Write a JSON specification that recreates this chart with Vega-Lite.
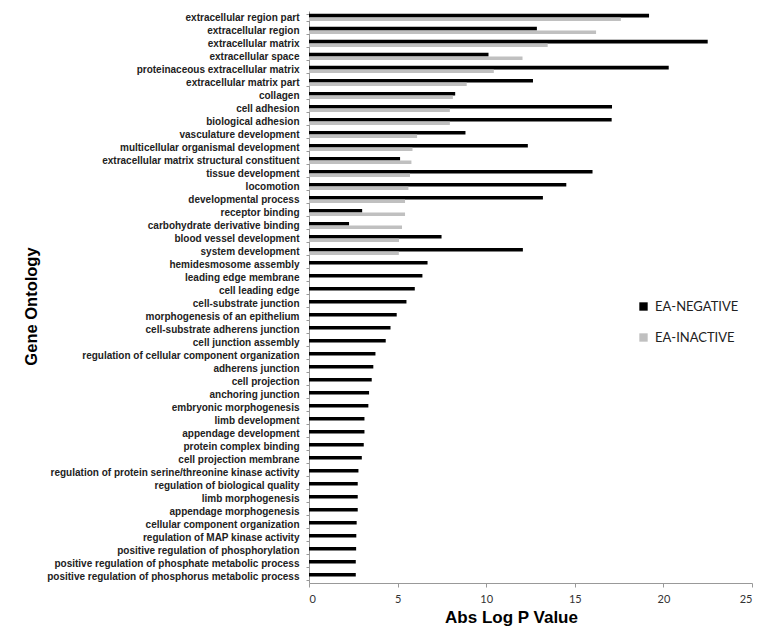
{
  "$schema": "https://vega.github.io/schema/vega-lite/v6.json",
  "width": 443,
  "height": 572,
  "autosize": {"type": "none"},
  "padding": {"left": 309, "top": 11, "right": 9, "bottom": 48},
  "background": "white",
  "config": {"view": {"stroke": null}},
  "data": {
    "values": [
      {"term": "extracellular region part", "series": "EA-NEGATIVE", "value": 19.19},
      {"term": "extracellular region part", "series": "EA-INACTIVE", "value": 17.6},
      {"term": "extracellular region", "series": "EA-NEGATIVE", "value": 12.86},
      {"term": "extracellular region", "series": "EA-INACTIVE", "value": 16.2},
      {"term": "extracellular matrix", "series": "EA-NEGATIVE", "value": 22.5},
      {"term": "extracellular matrix", "series": "EA-INACTIVE", "value": 13.47},
      {"term": "extracellular space", "series": "EA-NEGATIVE", "value": 10.13},
      {"term": "extracellular space", "series": "EA-INACTIVE", "value": 12.05},
      {"term": "proteinaceous extracellular matrix", "series": "EA-NEGATIVE", "value": 20.3},
      {"term": "proteinaceous extracellular matrix", "series": "EA-INACTIVE", "value": 10.43},
      {"term": "extracellular matrix part", "series": "EA-NEGATIVE", "value": 12.64},
      {"term": "extracellular matrix part", "series": "EA-INACTIVE", "value": 8.9},
      {"term": "collagen", "series": "EA-NEGATIVE", "value": 8.25},
      {"term": "collagen", "series": "EA-INACTIVE", "value": 8.12},
      {"term": "cell adhesion", "series": "EA-NEGATIVE", "value": 17.1},
      {"term": "cell adhesion", "series": "EA-INACTIVE", "value": 7.95},
      {"term": "biological adhesion", "series": "EA-NEGATIVE", "value": 17.08},
      {"term": "biological adhesion", "series": "EA-INACTIVE", "value": 7.95},
      {"term": "vasculature development", "series": "EA-NEGATIVE", "value": 8.83},
      {"term": "vasculature development", "series": "EA-INACTIVE", "value": 6.1},
      {"term": "multicellular organismal development", "series": "EA-NEGATIVE", "value": 12.35},
      {"term": "multicellular organismal development", "series": "EA-INACTIVE", "value": 5.84},
      {"term": "extracellular matrix structural constituent", "series": "EA-NEGATIVE", "value": 5.14},
      {"term": "extracellular matrix structural constituent", "series": "EA-INACTIVE", "value": 5.78},
      {"term": "tissue development", "series": "EA-NEGATIVE", "value": 16.0},
      {"term": "tissue development", "series": "EA-INACTIVE", "value": 5.7},
      {"term": "locomotion", "series": "EA-NEGATIVE", "value": 14.52},
      {"term": "locomotion", "series": "EA-INACTIVE", "value": 5.61},
      {"term": "developmental process", "series": "EA-NEGATIVE", "value": 13.2},
      {"term": "developmental process", "series": "EA-INACTIVE", "value": 5.42},
      {"term": "receptor binding", "series": "EA-NEGATIVE", "value": 3.0},
      {"term": "receptor binding", "series": "EA-INACTIVE", "value": 5.42},
      {"term": "carbohydrate derivative binding", "series": "EA-NEGATIVE", "value": 2.26},
      {"term": "carbohydrate derivative binding", "series": "EA-INACTIVE", "value": 5.25},
      {"term": "blood vessel development", "series": "EA-NEGATIVE", "value": 7.48},
      {"term": "blood vessel development", "series": "EA-INACTIVE", "value": 5.08},
      {"term": "system development", "series": "EA-NEGATIVE", "value": 12.07},
      {"term": "system development", "series": "EA-INACTIVE", "value": 5.07},
      {"term": "hemidesmosome assembly", "series": "EA-NEGATIVE", "value": 6.69},
      {"term": "leading edge membrane", "series": "EA-NEGATIVE", "value": 6.4},
      {"term": "cell leading edge", "series": "EA-NEGATIVE", "value": 5.97},
      {"term": "cell-substrate junction", "series": "EA-NEGATIVE", "value": 5.5},
      {"term": "morphogenesis of an epithelium", "series": "EA-NEGATIVE", "value": 4.95},
      {"term": "cell-substrate adherens junction", "series": "EA-NEGATIVE", "value": 4.6},
      {"term": "cell junction assembly", "series": "EA-NEGATIVE", "value": 4.33},
      {"term": "regulation of cellular component organization", "series": "EA-NEGATIVE", "value": 3.75},
      {"term": "adherens junction", "series": "EA-NEGATIVE", "value": 3.63},
      {"term": "cell projection", "series": "EA-NEGATIVE", "value": 3.54},
      {"term": "anchoring junction", "series": "EA-NEGATIVE", "value": 3.39},
      {"term": "embryonic morphogenesis", "series": "EA-NEGATIVE", "value": 3.35},
      {"term": "limb development", "series": "EA-NEGATIVE", "value": 3.13},
      {"term": "appendage development", "series": "EA-NEGATIVE", "value": 3.13},
      {"term": "protein complex binding", "series": "EA-NEGATIVE", "value": 3.09},
      {"term": "cell projection membrane", "series": "EA-NEGATIVE", "value": 2.98},
      {"term": "regulation of protein serine/threonine kinase activity", "series": "EA-NEGATIVE", "value": 2.79},
      {"term": "regulation of biological quality", "series": "EA-NEGATIVE", "value": 2.75},
      {"term": "limb morphogenesis", "series": "EA-NEGATIVE", "value": 2.75},
      {"term": "appendage morphogenesis", "series": "EA-NEGATIVE", "value": 2.75},
      {"term": "cellular component organization", "series": "EA-NEGATIVE", "value": 2.69},
      {"term": "regulation of MAP kinase activity", "series": "EA-NEGATIVE", "value": 2.67},
      {"term": "positive regulation of phosphorylation", "series": "EA-NEGATIVE", "value": 2.66},
      {"term": "positive regulation of phosphate metabolic process", "series": "EA-NEGATIVE", "value": 2.64},
      {"term": "positive regulation of phosphorus metabolic process", "series": "EA-NEGATIVE", "value": 2.64}
    ]
  },
  "mark": {"type": "bar"},
  "encoding": {
    "y": {
      "field": "term",
      "type": "nominal",
      "sort": null,
      "scale": {"paddingInner": 0.45, "paddingOuter": 0.22},
      "axis": {
        "title": "Gene Ontology",
        "titleFont": "Liberation Sans",
        "titleFontSize": 16.5,
        "titleFontWeight": "bold",
        "titleColor": "black",
        "titleX": -278,
        "titleY": 295,
        "titleAngle": -90,
        "titleAlign": "center",
        "titleBaseline": "middle",
        "labelFont": "Liberation Sans",
        "labelFontSize": 10,
        "labelFontWeight": "bold",
        "labelColor": "#222222",
        "labelPadding": 7,
        "labelLimit": 400,
        "tickBand": "extent",
        "tickSize": 3,
        "tickColor": "#999999",
        "domainColor": "#999999",
        "grid": false
      }
    },
    "yOffset": {"field": "series", "type": "nominal", "sort": ["EA-NEGATIVE", "EA-INACTIVE"], "scale": {"paddingInner": 0}},
    "x": {
      "field": "value",
      "type": "quantitative",
      "scale": {"domain": [0, 25], "nice": false},
      "axis": {
        "title": "Abs Log P Value",
        "titleFont": "Liberation Sans",
        "titleFontSize": 17,
        "titleFontWeight": "bold",
        "titleColor": "black",
        "titleX": 202,
        "titleY": 34,
        "titleAlign": "center",
        "titleBaseline": "middle",
        "values": [0, 5, 10, 15, 20, 25],
        "labelFont": "Lato",
        "labelFontSize": 11,
        "labelColor": "#333333",
        "labelPadding": 6,
        "tickSize": 4,
        "tickColor": "#999999",
        "domainColor": "#999999",
        "grid": false
      }
    },
    "color": {
      "field": "series",
      "type": "nominal",
      "sort": ["EA-NEGATIVE", "EA-INACTIVE"],
      "scale": {"domain": ["EA-NEGATIVE", "EA-INACTIVE"], "range": ["#000000", "#c0c0c0"]},
      "legend": {
        "title": null,
        "orient": "none",
        "legendX": 328,
        "legendY": 289,
        "symbolType": "square",
        "symbolSize": 70,
        "symbolStrokeWidth": 0,
        "labelFont": "Lato",
        "labelFontSize": 13,
        "labelColor": "#222222",
        "rowPadding": 17,
        "labelOffset": 5
      }
    }
  }
}
